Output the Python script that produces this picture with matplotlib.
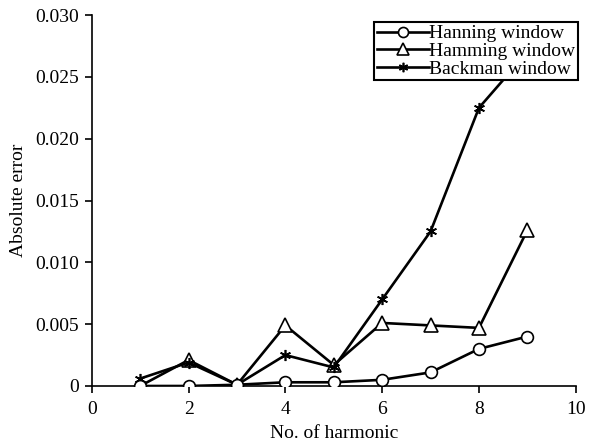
import matplotlib
matplotlib.use("Agg")
import matplotlib.pyplot as plt

harmonics = [1, 2, 3, 4, 5, 6, 7, 8, 9]
hanning = [0.0000, 0.0000, 0.0001, 0.0003, 0.0003, 0.0005, 0.0011, 0.0030, 0.0040]
hamming = [0.0000, 0.0021, 0.0001, 0.0049, 0.0017, 0.0051, 0.0049, 0.0047, 0.0126]
backman = [0.0006, 0.0019, 0.0001, 0.0025, 0.0015, 0.0070, 0.0125, 0.0225, 0.0270]

plt.rcParams['font.family'] = ['Liberation Serif', 'DejaVu Serif']

fig = plt.figure(figsize=(5.96, 4.45), dpi=100)
ax = fig.add_axes([0.154, 0.1326, 0.812, 0.8334])

lw = 1.9
ax.plot(harmonics, hanning, color='black', lw=lw, marker='o', ms=8.5,
        mfc='white', mec='black', mew=1.2, label='Hanning window', zorder=3)
ax.plot(harmonics, hamming, color='black', lw=lw, marker='^', ms=10.5,
        mfc='white', mec='black', mew=1.2, label='Hamming window', zorder=2)
ax.plot(harmonics, backman, color='black', lw=lw, marker=(6, 2, 0), ms=8,
        mec='black', mew=1.2, label='Backman window', zorder=2)

ax.set_xlim(0, 10)
ax.set_ylim(0, 0.030)
ax.set_xticks([0, 2, 4, 6, 8, 10])
ax.set_yticks([0, 0.005, 0.010, 0.015, 0.020, 0.025, 0.030])
ax.set_yticklabels(['0', '0.005', '0.010', '0.015', '0.020', '0.025', '0.030'])
ax.tick_params(direction='out', length=5, width=1.2, labelsize=14, colors='black')
ax.tick_params(axis='x', pad=6)
ax.tick_params(axis='y', pad=4)
for s in ['top', 'right']:
    ax.spines[s].set_visible(False)
for s in ['left', 'bottom']:
    ax.spines[s].set_linewidth(1.2)

ax.set_xlabel('No. of harmonic', fontsize=14, labelpad=5)
ax.set_ylabel('Absolute error', fontsize=14, labelpad=6)

leg = ax.legend(loc='upper right', bbox_to_anchor=(1.005, 0.982), fontsize=14,
                frameon=True, fancybox=False, edgecolor='black', framealpha=1,
                handlelength=2.7, handletextpad=0.0, borderpad=0.15,
                labelspacing=0.0, borderaxespad=0.0, markerscale=0.85)
leg.get_frame().set_linewidth(1.5)
leg.set_zorder(5)

fig.savefig('out.png', dpi=100)
